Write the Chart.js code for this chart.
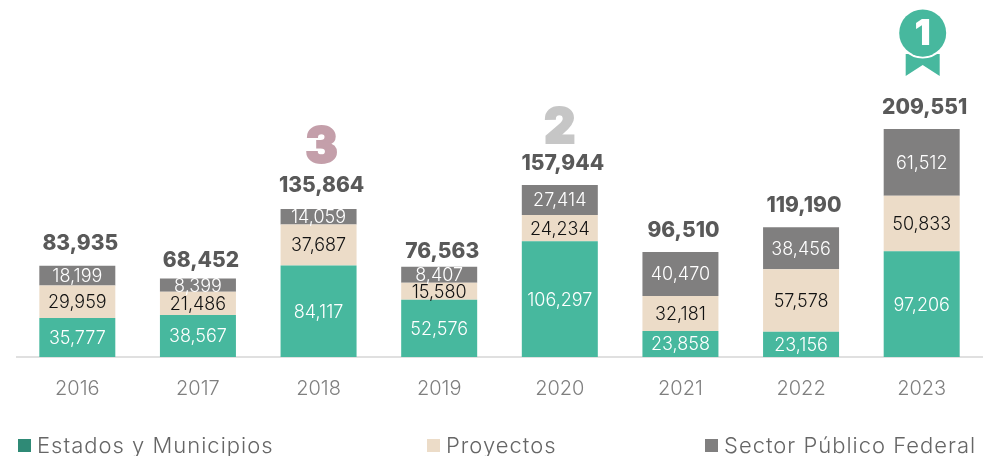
<!DOCTYPE html>
<html>
<head>
<meta charset="utf-8">
<style>
  html, body { margin: 0; padding: 0; background: #fff; overflow: hidden; }
  #wrap { position: relative; width: 986px; height: 456px; }
</style>
<script src="https://cdn.jsdelivr.net/npm/chart.js@4/dist/chart.umd.min.js"></script>
</head>
<body>
<div id="wrap"><canvas id="chart" width="986" height="456"></canvas></div>
<script>
const years = ['2016', '2017', '2018', '2019', '2020', '2021', '2022', '2023'];
const estados = [35777, 38567, 84117, 52576, 106297, 23858, 23156, 97206];
const proyectos = [29959, 21486, 37687, 15580, 24234, 32181, 57578, 50833];
const sectorFederal = [18199, 8399, 14059, 8407, 27414, 40470, 38456, 61512];
// the original draws the two thin grey segments taller than their printed numbers
const sectorFederalDrawn = [18199, 12000, 14059, 14800, 27414, 40470, 38456, 61512];
const totals = [83935, 68452, 135864, 76563, 157944, 96510, 119190, 209551];
const seriesNames = ['Estados y Municipios', 'Proyectos', 'Sector Público Federal'];
const seriesColors = ['#47b89e', '#ecdcc8', '#807f7f'];
const labelColors = ['#ffffff', '#111111', '#ffffff'];
const legendSwatches = ['#2f8a76', '#ecdcc8', '#807f7f'];
const legendX = [18, 427, 705];
const printed = [estados, proyectos, sectorFederal];
const totalLift = [22, 18, 23, 15, 21, 21, 22, 21];
const ranks = { 2: '3', 4: '2' };
const rankColors = { 2: '#c49faa', 4: '#c6c6c6' };
const rankShift = { 2: { x: 3, y: -39 }, 4: { x: 0, y: -36 } };

const fontName = 'Inter, "Open Sans", sans-serif';

function fmt(n) {
  return n.toLocaleString('en-US');
}

const labelsPlugin = {
  id: 'labelsPlugin',
  afterDatasetsDraw(chart) {
    const ctx = chart.ctx;
    ctx.save();
    ctx.textAlign = 'center';
    ctx.textBaseline = 'middle';

    // numbers inside the segments
    chart.data.datasets.forEach(function (ds, d) {
      chart.getDatasetMeta(d).data.forEach(function (bar, i) {
        ctx.font = '300 18px ' + fontName;
        ctx.fillStyle = labelColors[d];
        ctx.fillText(fmt(printed[d][i]), bar.x, (bar.y + bar.base) / 2 + 1);
      });
    });

    // totals above the stacks, ranks above those
    const topBars = chart.getDatasetMeta(2).data;
    totals.forEach(function (t, i) {
      const tx = topBars[i].x + 3;
      const ty = topBars[i].y - totalLift[i];
      ctx.font = '800 21px ' + fontName;
      ctx.fillStyle = '#595959';
      ctx.fillText(fmt(t), tx, ty);
      if (ranks[i]) {
        ctx.font = '900 48px ' + fontName;
        ctx.fillStyle = rankColors[i];
        ctx.strokeStyle = rankColors[i];
        ctx.lineWidth = 2;
        ctx.fillText(ranks[i], tx + rankShift[i].x - 3, ty + rankShift[i].y);
        ctx.strokeText(ranks[i], tx + rankShift[i].x - 3, ty + rankShift[i].y);
      }
    });

    // medal over the top year
    const last = topBars[topBars.length - 1];
    const mx = last.x + 1;
    const my = last.y - 96;
    ctx.fillStyle = '#47b89e';
    ctx.beginPath();
    ctx.moveTo(mx - 17, my + 21);
    ctx.lineTo(mx + 17, my + 21);
    ctx.lineTo(mx + 17, my + 43);
    ctx.lineTo(mx, my + 32);
    ctx.lineTo(mx - 17, my + 43);
    ctx.closePath();
    ctx.fill();
    ctx.strokeStyle = '#ffffff';
    ctx.lineWidth = 2;
    ctx.beginPath();
    ctx.arc(mx, my, 24.5, 0, Math.PI * 2);
    ctx.stroke();
    ctx.beginPath();
    ctx.arc(mx, my, 23.5, 0, Math.PI * 2);
    ctx.fill();
    ctx.font = '900 36px ' + fontName;
    ctx.fillStyle = '#ffffff';
    ctx.fillText('1', mx, my + 1);

    // legend row, spaced like the original
    ctx.textAlign = 'left';
    ctx.font = '300 22px ' + fontName;
    ctx.letterSpacing = '1px';
    seriesNames.forEach(function (name, i) {
      ctx.fillStyle = legendSwatches[i];
      ctx.fillRect(legendX[i], 439, 13, 13);
      ctx.fillStyle = '#666666';
      ctx.fillText(name, legendX[i] + 19, 446);
    });
    ctx.restore();
  },
};

new Chart(document.getElementById('chart'), {
  type: 'bar',
  data: {
    labels: years,
    datasets: [
      { label: seriesNames[0], data: estados, backgroundColor: seriesColors[0] },
      { label: seriesNames[1], data: proyectos, backgroundColor: seriesColors[1] },
      { label: seriesNames[2], data: sectorFederalDrawn, backgroundColor: seriesColors[2] },
    ],
  },
  options: {
    responsive: false,
    animation: false,
    layout: { padding: { left: 17, right: 4, top: 0, bottom: 0 } },
    plugins: { legend: { display: false }, tooltip: { enabled: false } },
    datasets: { bar: { categoryPercentage: 1, barPercentage: 0.63 } },
    scales: {
      x: {
        stacked: true,
        grid: { display: false },
        border: { color: '#e0e0e0', width: 2 },
        ticks: { color: '#7f7f7f', font: { family: fontName, size: 20, weight: '300' }, padding: 12, maxRotation: 0 },
        afterFit(axis) { axis.height = 99; },
      },
      y: { stacked: true, display: false, min: 0, max: 328000 },
    },
  },
  plugins: [labelsPlugin],
});
</script>
</body>
</html>
